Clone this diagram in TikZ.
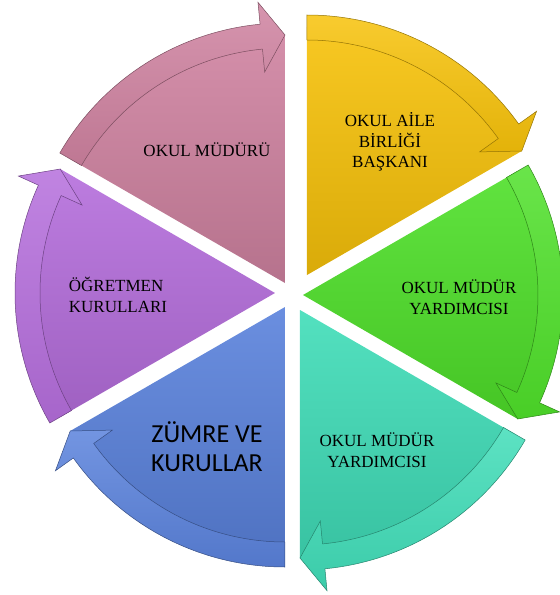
\documentclass[tikz,border=0pt]{standalone}
\usepackage{fontspec}
\setmainfont{Liberation Serif}
\newfontfamily\calfont{Carlito}
\usepackage{xcolor}
\usepackage{tikz}
\usetikzlibrary{positioning}
\definecolor{pinkc}{HTML}{CF82A0}
\definecolor{yellowc}{HTML}{F7C20A}
\definecolor{greenc}{HTML}{4FE02A}
\definecolor{tealc}{HTML}{40DDB8}
\definecolor{bluec}{HTML}{5A82DC}
\definecolor{purplec}{HTML}{B56EDC}
\tikzset{
  labeltext/.style={font=\fontsize{17}{20.5}\selectfont, align=center, text=black},
  biglabel/.style={font=\calfont\fontsize{26}{29}\selectfont, align=center, text=black},
}

\begin{document}
\begin{tikzpicture}[x=1pt, y=1pt]
  \useasboundingbox (-293,-300) rectangle (267,295);
  % six wedges, each with its curved arrow on the rim
  \foreach \ax/\ay/\sa/\cname in {-8/12/150/pinkc, 14/20/90/yellowc, 10/0/30/greenc,
      7/-15/-30/tealc, -8/-12/-90/bluec, -18/2/210/purplec}{
    \pgfmathsetmacro{\ea}{\sa-60}
    \pgfmathsetmacro{\hb}{\sa-54.5}
    \begin{scope}[shift={(\ax,\ay)}]
      \shade[top color=\cname!90!white, bottom color=\cname!88!black]
        (0,0) -- (\sa:248) arc[start angle=\sa, end angle=\ea, radius=248] -- cycle;
      \shade[top color=\cname!85!white, bottom color=\cname!92!black,
          draw=\cname!60!black, line width=0.5pt]
        (\sa:235) -- (\sa:260) arc[start angle=\sa, end angle=\hb, radius=260]
        -- (\hb:282) -- (\ea:248) -- (\hb:212) -- (\hb:235)
        arc[start angle=\hb, end angle=\sa, radius=235] -- cycle;
    \end{scope}
  }
  \node[labeltext] (principal) at (-86,145) {OKUL MÜDÜRÜ};
  \node[labeltext] (parents) at (97,153) {OKUL AİLE\\BİRLİĞİ\\BAŞKANI};
  \node[labeltext] (deputya) at (166,-2) {OKUL MÜDÜR\\YARDIMCISI};
  \node[labeltext, align=left] (teachers) at (-175,0) {ÖĞRETMEN\\KURULLARI};
  \node[biglabel] (branches) at (-86,-152) {ZÜMRE VE\\KURULLAR};
  \node[labeltext] (deputyb) at (84,-155) {OKUL MÜDÜR\\YARDIMCISI};
\end{tikzpicture}
\end{document}
